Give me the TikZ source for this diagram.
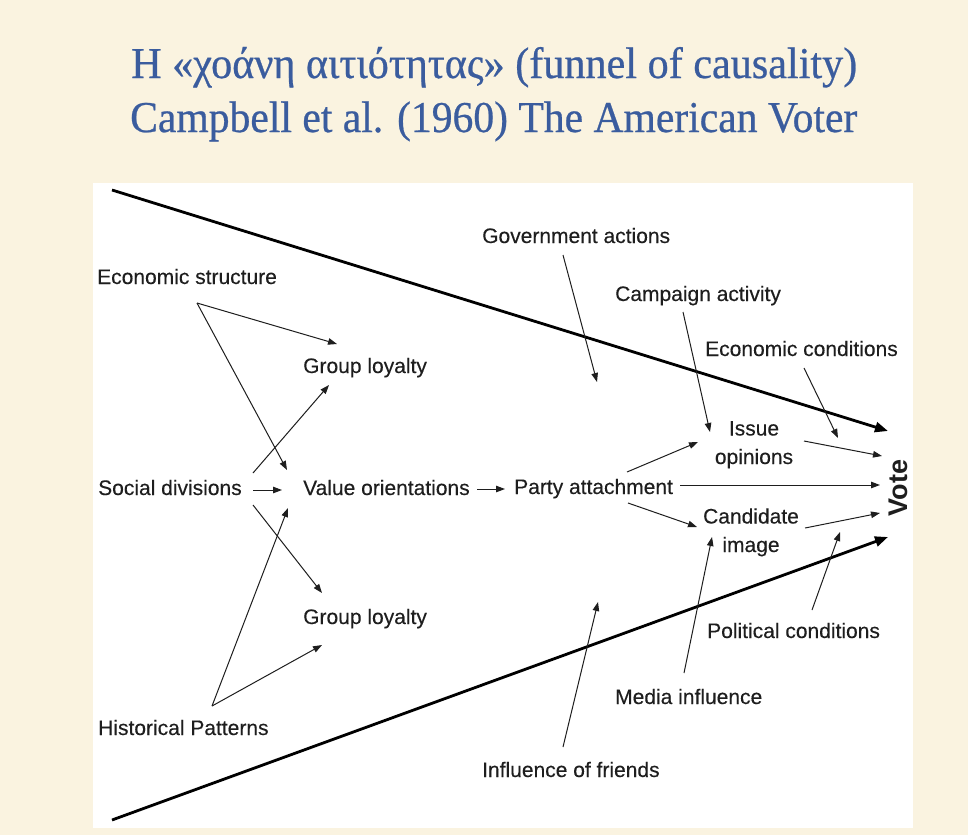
\documentclass[tikz,border=0pt]{standalone}
\usepackage{fontspec}
\setmainfont{Liberation Serif}
\newfontfamily\titlef[FakeBold=0.6]{Liberation Serif}
\newfontfamily\arialf[FakeBold=0.25]{Liberation Sans}
\newfontfamily\arialb{Liberation Sans}
\usepackage{graphicx}
\usetikzlibrary{arrows.meta}
\definecolor{parch}{RGB}{250,243,224}
\definecolor{titleblue}{RGB}{58,92,158}
\definecolor{ink}{RGB}{30,30,30}
\tikzset{
  lab/.style={font=\arialf\fontsize{21}{28.5}\selectfont, inner sep=0pt, anchor=base west, text=ink},
  labc/.style={font=\arialf\fontsize{21}{28.5}\selectfont, inner sep=0pt, anchor=base, align=center, text=ink},
  thin arrow/.style={draw=ink, line width=1pt, -{Triangle[length=9pt,width=6.5pt]}},
  funnel/.style={draw=black, line width=2.8pt, -{Triangle[length=13pt,width=10pt]}},
  ttl/.style={font=\titlef\fontsize{44}{48}\selectfont, text=titleblue, inner sep=0pt, anchor=base west}
}
\begin{document}
\begin{tikzpicture}[x=1pt,y=-1pt]
\useasboundingbox (0,0) rectangle (968,835);
\fill[parch] (0,0) rectangle (968,835);
\fill[white] (93,183) rectangle (913,828);
% title
\node[ttl] (t1) at (131,78) {\resizebox{726pt}{\height}{Η «χοάνη αιτιότητας» (funnel of causality)}};
\node[ttl] (t2) at (130,132) {\resizebox{727pt}{\height}{Campbell et al. (1960) The American Voter}};
% labels
\node[lab] (es) at (97,284) {Economic structure};
\node[lab] (gl1) at (303,373) {Group loyalty};
\node[lab] (sd) at (98,495) {Social divisions};
\node[lab] (vo) at (303,495) {Value orientations};
\node[lab] (pa) at (514,494) {Party attachment};
\node[lab] (gl2) at (303,624) {Group loyalty};
\node[lab] (hp) at (98,735) {Historical Patterns};
\node[lab] (ga) at (482,243) {Government actions};
\node[lab] (ca) at (615,301) {Campaign activity};
\node[lab] (ec) at (705,356) {Economic conditions};
\node[labc] (io) at (754,464) {Issue\\opinions};
\node[labc] (ci) at (751,552) {Candidate\\image};
\node[lab] (pc) at (707,638) {Political conditions};
\node[lab] (mi) at (615,704) {Media influence};
\node[lab] (fr) at (482,777) {Influence of friends};
\node[font=\arialb\bfseries\fontsize{27}{30}\selectfont, rotate=90, inner sep=0pt, text=ink] (vote) at (898,488) {Vote};
% named end points
\coordinate (esA) at (197,303);
\coordinate (hpA) at (212,706);
\coordinate (fTop0) at (112,190);
\coordinate (fTop1) at (888,431);
\coordinate (fBot0) at (112,820);
\coordinate (fBot1) at (888,537);
% funnel
\draw[funnel] (fTop0) -- (fTop1);
\draw[funnel] (fBot0) -- (fBot1);
% thin arrows
\draw[thin arrow] (esA) -- (337,344);
\draw[thin arrow] (esA) -- (287,470);
\draw[thin arrow] (253,473) -- (329,385);
\draw[thin arrow] (253,490) -- (282,490);
\draw[thin arrow] (253,505) -- (322,593);
\draw[thin arrow] (hpA) -- (288,508);
\draw[thin arrow] (hpA) -- (322,645);
\draw[thin arrow] (477,489) -- (505,489);
\draw[thin arrow] (680,485) -- (880,485);
\draw[thin arrow] (627,472) -- (698,442);
\draw[thin arrow] (628,503) -- (697,527);
\draw[thin arrow] (563,255) -- (597,382);
\draw[thin arrow] (683,312) -- (710,432);
\draw[thin arrow] (804,368) -- (838,438);
\draw[thin arrow] (804,441) -- (882,456);
\draw[thin arrow] (805,528) -- (880,513);
\draw[thin arrow] (812,610) -- (840,532);
\draw[thin arrow] (684,673) -- (712,537);
\draw[thin arrow] (563,747) -- (598,602);
\end{tikzpicture}
\end{document}
